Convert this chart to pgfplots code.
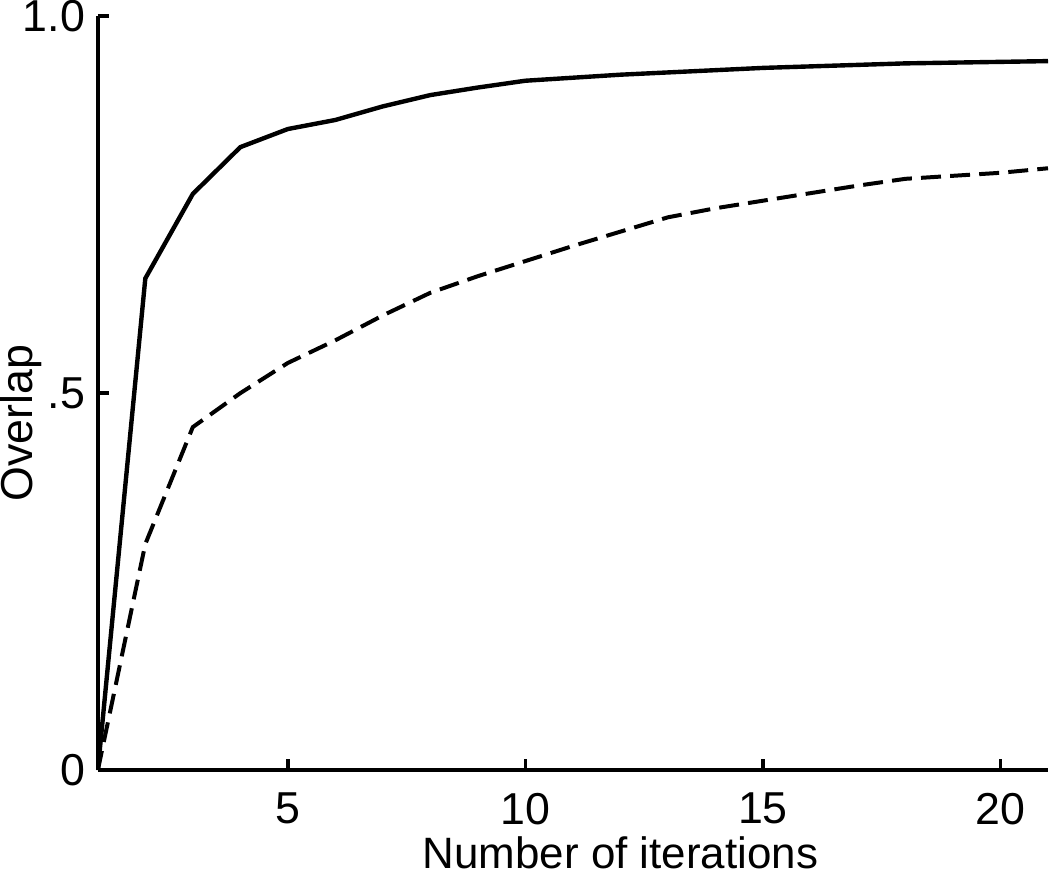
\documentclass[border=0pt]{standalone}
\usepackage{pgfplots}
\pgfplotsset{compat=1.18}
\usepackage{fontspec}
\setmainfont{Liberation Sans}
\begin{document}
\begin{tikzpicture}
\begin{axis}[
	scale only axis,
	width=238pt, height=189pt,
	xmin=1, xmax=21, ymin=0, ymax=1,
	axis x line*=bottom, axis y line*=left,
	axis line style={line width=1pt},
	xtick={5,10,15,20}, ytick={0,0.5,1},
	yticklabels={0,.5,1.0},
	tick align=inside,
	major tick length=2.8pt,
	tick style={line width=0.9pt, black},
	yticklabel style={inner sep=0pt, anchor=east, xshift=-3pt},
	xticklabel style={inner sep=0pt, anchor=north, yshift=-5.5pt},
	/pgf/number format/assume math mode=true,
	font=\fontsize{11.2}{13}\selectfont,
	xlabel={Number of iterations},
	ylabel={Overlap},
	xlabel style={at={(axis description cs:0.55,0)}, anchor=base, yshift=-24.5pt, inner sep=1pt, font=\fontsize{11}{13}\selectfont},
	ylabel style={at={(axis description cs:-0.081,0.46)}, anchor=center, inner sep=0pt},
	clip=true]
\addplot[black, line width=1.1pt] coordinates
	{(1,0) (2,0.652) (3,0.764) (4,0.826) (5,0.850) (6,0.862) (7,0.880)
	 (8,0.895) (9,0.905) (10,0.914) (11,0.918) (12,0.922) (13,0.925)
	 (14,0.928) (15,0.931) (16,0.933) (17,0.935) (18,0.937) (19,0.938)
	 (20,0.939) (21,0.940)};
\addplot[black, line width=1pt, dash pattern=on 5pt off 2.3pt] coordinates
	{(1,0) (2,0.30) (3,0.455) (4,0.50) (5,0.540) (6,0.570) (7,0.603)
	 (8,0.633) (9,0.655) (10,0.675) (11,0.695) (12,0.714) (13,0.733)
	 (14,0.745) (15,0.755) (16,0.765) (17,0.775) (18,0.784) (19,0.788)
	 (20,0.792) (21,0.798)};
\end{axis}
\end{tikzpicture}
\end{document}
